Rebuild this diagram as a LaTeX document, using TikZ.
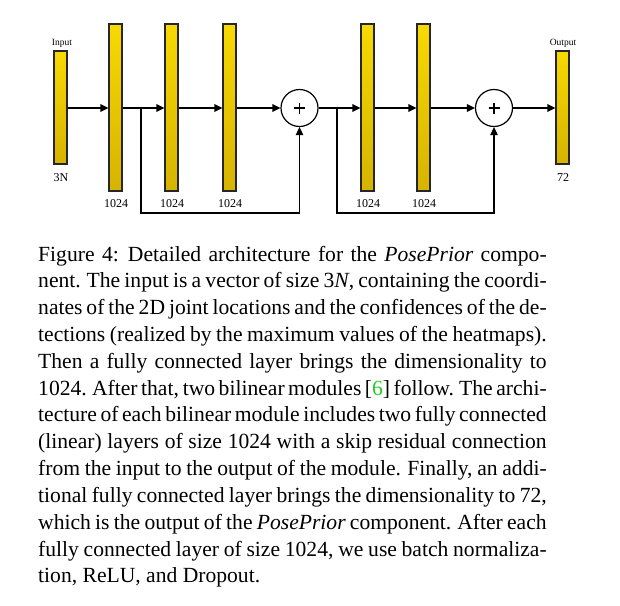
\documentclass[tikz,border=0pt]{standalone}
\usepackage{fontspec}
\setmainfont{Liberation Serif}
\usetikzlibrary{arrows.meta}
\definecolor{bartop}{HTML}{F8D900}
\definecolor{barbot}{HTML}{D6B300}
\definecolor{citegreen}{HTML}{22CC22}
\newcommand{\capline}[1]{\hbox to 508.5pt{\spaceskip=0.25em plus 0.2em minus 0.1em\xspaceskip=0.33em plus 0.2em minus 0.1em\relax #1}}
\begin{document}
\begin{tikzpicture}[x=1pt,y=-1pt,
  bar/.style={draw=black!85,line width=1.1pt,top color=bartop,bottom color=barbot,minimum width=13pt,inner sep=0pt},
  tallbar/.style={bar,minimum height=167pt},
  shortbar/.style={bar,minimum height=113pt},
  plusnode/.style={circle,draw=black,line width=1.2pt,minimum size=37pt,inner sep=0pt},
  plussign/.style={line width=1.5pt},
  conn/.style={line width=1.3pt,-{Triangle[length=8pt,width=7.5pt]}},
  skip/.style={line width=1.1pt,-{Triangle[length=8pt,width=7.5pt]}},
  lbl/.style={font=\fontsize{12}{12}\selectfont,inner sep=0pt},
  smalllbl/.style={font=\fontsize{9.5}{9.5}\selectfont,inner sep=0pt},
  capl/.style={anchor=base west,inner sep=0pt,font=\fontsize{21.6}{26}\selectfont}
]
\useasboundingbox (0,0) rectangle (620,605);
% bars
\node[shortbar] (in) at (60.5,107.5) {};
\node[tallbar] (b1) at (115.5,107.5) {};
\node[tallbar] (b2) at (171.5,107.5) {};
\node[tallbar] (b3) at (229.5,107.5) {};
\node[plusnode] (p1) at (299.5,108) {};
\node[tallbar] (b4) at (367.5,107.5) {};
\node[tallbar] (b5) at (423.5,107.5) {};
\node[plusnode] (p2) at (494,108) {};
\node[shortbar] (out) at (562.5,107.5) {};
\foreach \p in {p1,p2}{
  \draw[plussign] ([xshift=-5.5pt]\p.center) -- ([xshift=5.5pt]\p.center);
  \draw[plussign] ([yshift=-5.5pt]\p.center) -- ([yshift=5.5pt]\p.center);
}
% labels
\node[smalllbl] (linput) at (62,43) {Input};
\node[smalllbl] (loutput) at (563,43) {Output};
\node[lbl] (l3n) at (61,178) {3N};
\node[lbl] (l72) at (563,178) {72};
\node[lbl] (l1) at (116,204) {1024};
\node[lbl] (l2) at (172,204) {1024};
\node[lbl] (l3) at (230,204) {1024};
\node[lbl] (l4) at (368,204) {1024};
\node[lbl] (l5) at (424,204) {1024};
% connectors
\draw[conn] (in.east |- 0,108) -- (b1.west |- 0,108);
\draw[conn] (b1.east |- 0,108) -- (b2.west |- 0,108);
\draw[conn] (b2.east |- 0,108) -- (b3.west |- 0,108);
\draw[conn] (b3.east |- 0,108) -- (p1.west);
\draw[conn] (p1.east) -- (b4.west |- 0,108);
\draw[conn] (b4.east |- 0,108) -- (b5.west |- 0,108);
\draw[conn] (b5.east |- 0,108) -- (p2.west);
\draw[conn] (p2.east) -- (out.west |- 0,108);
\coordinate (s1) at (141,108);
\coordinate (s2) at (337,108);
\draw[skip] (s1) -- (141,213) -| (p1.south);
\draw[skip] (s2) -- (337,213) -| (p2.south);
% caption
\node[capl] (c1) at (38,261) {\capline{Figure 4: Detailed architecture for the \textit{PosePrior} compo-}};
\node[capl] (c2) at (38,287.83) {\capline{nent. The input is a vector of size 3\textit{N}, containing the coordi-}};
\node[capl] (c3) at (38,314.66) {\capline{nates of the 2D joint locations and the confidences of the de-}};
\node[capl] (c4) at (38,341.49) {\capline{tections (realized by the maximum values of the heatmaps).}};
\node[capl] (c5) at (38,368.32) {\capline{Then a fully connected layer brings the dimensionality to}};
\node[capl] (c6) at (38,395.15) {\capline{1024. After that, two bilinear modules [{\color{citegreen}6}] follow. The archi-}};
\node[capl] (c7) at (38,421.98) {\capline{tecture of each bilinear module includes two fully connected}};
\node[capl] (c8) at (38,448.81) {\capline{(linear) layers of size 1024 with a skip residual connection}};
\node[capl] (c9) at (38,475.64) {\capline{from the input to the output of the module. Finally, an addi-}};
\node[capl] (c10) at (38,502.47) {\capline{tional fully connected layer brings the dimensionality to 72,}};
\node[capl] (c11) at (38,529.30) {\capline{which is the output of the \textit{PosePrior} component. After each}};
\node[capl] (c12) at (38,556.13) {\capline{fully connected layer of size 1024, we use batch normaliza-}};
\node[capl] (c13) at (38,582.96) {tion, ReLU, and Dropout.};
\end{tikzpicture}
\end{document}
